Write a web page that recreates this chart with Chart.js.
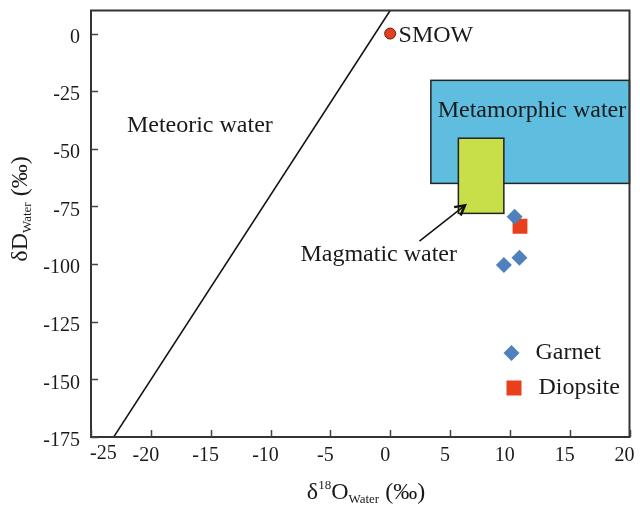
<!DOCTYPE html>
<html>
<head>
<meta charset="utf-8">
<script src="https://cdn.jsdelivr.net/npm/chart.js@4.4.1/dist/chart.umd.min.js"></script>
<style>
  html, body { margin: 0; padding: 0; background: #fff; }
</style>
</head>
<body>
<canvas id="isoChart" width="640" height="507"></canvas>
<script>
// samples
const garnetO = [10.4, 10.8, 9.5];
const garnetD = [-79.5, -97.2, -100.4];
const diopsiteO = [10.85];
const diopsiteD = [-83.6];
const smowO = [0];
const smowD = [0];
// meteoric water line end points
const mwlO = [-23.1, 0];
const mwlD = [-175, 10];
// fields
const metamorphicO = [3.4, 20];
const metamorphicD = [-20.3, -65];
const magmaticO = [5.7, 9.5];
const magmaticD = [-45.4, -78];
// axis ticks
const xTicks = [-25, -20, -15, -10, -5, 0, 5, 10, 15, 20];
const yTicks = [0, -25, -50, -75, -100, -125, -150, -175];

const serif = "'Liberation Serif', 'Times New Roman', serif";
const pts = (xs, ys) => xs.map((x, i) => ({ x: x, y: ys[i] }));

const fieldsPlugin = {
  id: 'fields',
  beforeDatasetsDraw(chart) {
    const { ctx, scales: { x, y } } = chart;
    const box = (os, ds, fill) => {
      const x1 = x.getPixelForValue(os[0]), x2 = x.getPixelForValue(os[1]);
      const y1 = y.getPixelForValue(ds[0]), y2 = y.getPixelForValue(ds[1]);
      ctx.save();
      ctx.fillStyle = fill;
      ctx.fillRect(x1, y1, x2 - x1, y2 - y1);
      ctx.strokeStyle = '#222';
      ctx.lineWidth = 1.5;
      ctx.strokeRect(x1, y1, x2 - x1, y2 - y1);
      ctx.restore();
    };
    box(metamorphicO, metamorphicD, '#5fbde0');
    box(magmaticO, magmaticD, '#c8df4a');
  }
};

const decorPlugin = {
  id: 'decor',
  afterDatasetsDraw(chart) {
    const { ctx, chartArea: a, scales: { x, y } } = chart;
    ctx.save();
    // frame
    ctx.strokeStyle = '#333';
    ctx.lineWidth = 2;
    ctx.strokeRect(a.left, a.top, a.right - a.left, a.bottom - a.top);
    // inward ticks
    ctx.lineWidth = 1.5;
    ctx.strokeStyle = '#444';
    ctx.beginPath();
    xTicks.forEach(v => {
      const px = Math.round(x.getPixelForValue(v)) + 0.5;
      ctx.moveTo(px, a.bottom); ctx.lineTo(px, a.bottom - 7);
    });
    yTicks.forEach(v => {
      const py = Math.round(y.getPixelForValue(v)) + 0.5;
      ctx.moveTo(a.left, py); ctx.lineTo(a.left + 7, py);
    });
    ctx.stroke();

    // first x tick label sits just inside the axis corner
    ctx.fillStyle = '#1a1a1a';
    ctx.font = '20px ' + serif;
    ctx.textAlign = 'left';
    ctx.textBaseline = 'middle';
    ctx.fillText(String(xTicks[0]), a.left - 1, a.bottom + 17);

    // labels
    ctx.font = '24px ' + serif;
    ctx.fillText('Meteoric water', x.getPixelForValue(-22), y.getPixelForValue(-40));
    ctx.fillText('SMOW', x.getPixelForValue(0.7), y.getPixelForValue(-1));
    ctx.fillText('Magmatic water', x.getPixelForValue(-7.5), y.getPixelForValue(-96));
    ctx.textAlign = 'center';
    ctx.fillText('Metamorphic water', x.getPixelForValue(11.85), y.getPixelForValue(-33.5));

    // arrow to magmatic field
    const ax1 = x.getPixelForValue(2.45), ay1 = y.getPixelForValue(-90);
    const ax2 = x.getPixelForValue(6.25), ay2 = y.getPixelForValue(-74.5);
    ctx.strokeStyle = '#111';
    ctx.lineWidth = 1.5;
    ctx.beginPath();
    ctx.moveTo(ax1, ay1); ctx.lineTo(ax2, ay2);
    ctx.stroke();
    const ang = Math.atan2(ay2 - ay1, ax2 - ax1);
    ctx.lineWidth = 2.5;
    ctx.beginPath();
    ctx.moveTo(ax2 - 11 * Math.cos(ang - 0.5), ay2 - 11 * Math.sin(ang - 0.5));
    ctx.lineTo(ax2, ay2);
    ctx.lineTo(ax2 - 11 * Math.cos(ang + 0.5), ay2 - 11 * Math.sin(ang + 0.5));
    ctx.stroke();

    // legend
    const lx = a.right - 118, ly1 = 353, ly2 = 388;
    ctx.fillStyle = '#4f81bd';
    ctx.beginPath();
    ctx.moveTo(lx, ly1 - 8); ctx.lineTo(lx + 8, ly1); ctx.lineTo(lx, ly1 + 8); ctx.lineTo(lx - 8, ly1);
    ctx.closePath(); ctx.fill();
    ctx.fillStyle = '#e8401c';
    ctx.fillRect(lx - 5, ly2 - 7.5, 15, 15);
    ctx.fillStyle = '#1a1a1a';
    ctx.textAlign = 'left';
    ctx.fillText('Garnet', lx + 24, ly1);
    ctx.fillText('Diopsite', lx + 27, ly2);

    // axis titles
    const sub = (txt, size) => { ctx.font = size + 'px ' + serif; return ctx.measureText(txt).width; };
    ctx.textBaseline = 'alphabetic';
    // x title: δ18O Water (‰)
    const parts = [['δ', 24, 0], ['18', 13, -10], ['O', 24, 0], ['Water', 13, 4], [' (‰)', 24, 0]];
    let total = 0;
    parts.forEach(p => total += sub(p[0], p[1]));
    let cx = 366 - total / 2;
    const by = 499;
    parts.forEach(p => {
      ctx.font = p[1] + 'px ' + serif;
      ctx.fillText(p[0], cx, by + p[2]);
      cx += ctx.measureText(p[0]).width;
    });
    // y title: δD Water (‰)
    const yparts = [['δD', 24, 0], ['Water', 13, 4], [' (‰)', 24, 0]];
    total = 0;
    yparts.forEach(p => total += sub(p[0], p[1]));
    ctx.translate(27, 209);
    ctx.rotate(-Math.PI / 2);
    cx = -total / 2;
    yparts.forEach(p => {
      ctx.font = p[1] + 'px ' + serif;
      ctx.fillText(p[0], cx, p[2]);
      cx += ctx.measureText(p[0]).width;
    });
    ctx.restore();
  }
};

new Chart(document.getElementById('isoChart'), {
  type: 'scatter',
  data: {
    datasets: [
      {
        label: 'Garnet',
        data: pts(garnetO, garnetD),
        pointStyle: 'rectRot',
        pointRadius: 8,
        backgroundColor: '#4f81bd',
        borderWidth: 0
      },
      {
        label: 'Diopsite',
        data: pts(diopsiteO, diopsiteD),
        pointStyle: 'rect',
        pointRadius: 10.5,
        backgroundColor: '#e8401c',
        borderWidth: 0
      },
      {
        label: 'SMOW',
        data: pts(smowO, smowD),
        pointStyle: 'circle',
        pointRadius: 5.5,
        backgroundColor: '#e2401f',
        borderColor: '#6b1a0e',
        borderWidth: 1
      },
      {
        label: 'Meteoric water line',
        data: pts(mwlO, mwlD),
        showLine: true,
        pointRadius: 0,
        borderColor: '#111',
        borderWidth: 1.5
      }
    ]
  },
  options: {
    responsive: false,
    animation: false,
    devicePixelRatio: 1,
    layout: { padding: { top: 10, right: 9, left: 0, bottom: 0 } },
    plugins: { legend: { display: false }, tooltip: { enabled: false } },
    scales: {
      x: {
        type: 'linear',
        min: -25,
        max: 20,
        afterBuildTicks: s => { s.ticks = xTicks.map(v => ({ value: v })); },
        afterFit: s => { s.height = 70; s.paddingLeft = 0; s.paddingRight = 0; },
        grid: { display: false, drawTicks: false },
        border: { display: false },
        ticks: {
          color: '#1a1a1a',
          font: { family: serif, size: 20 },
          padding: 7,
          labelOffset: -5,
          maxRotation: 0,
          callback: v => (v === xTicks[0] ? '' : String(v))
        }
      },
      y: {
        type: 'linear',
        min: -175,
        max: 10,
        afterBuildTicks: s => { s.ticks = yTicks.map(v => ({ value: v })); },
        afterFit: s => { s.width = 91; s.paddingTop = 0; s.paddingBottom = 0; },
        grid: { display: false, drawTicks: false },
        border: { display: false },
        ticks: { color: '#1a1a1a', font: { family: serif, size: 20 }, padding: 11, labelOffset: 4 }
      }
    }
  },
  plugins: [fieldsPlugin, decorPlugin]
});
</script>
</body>
</html>
